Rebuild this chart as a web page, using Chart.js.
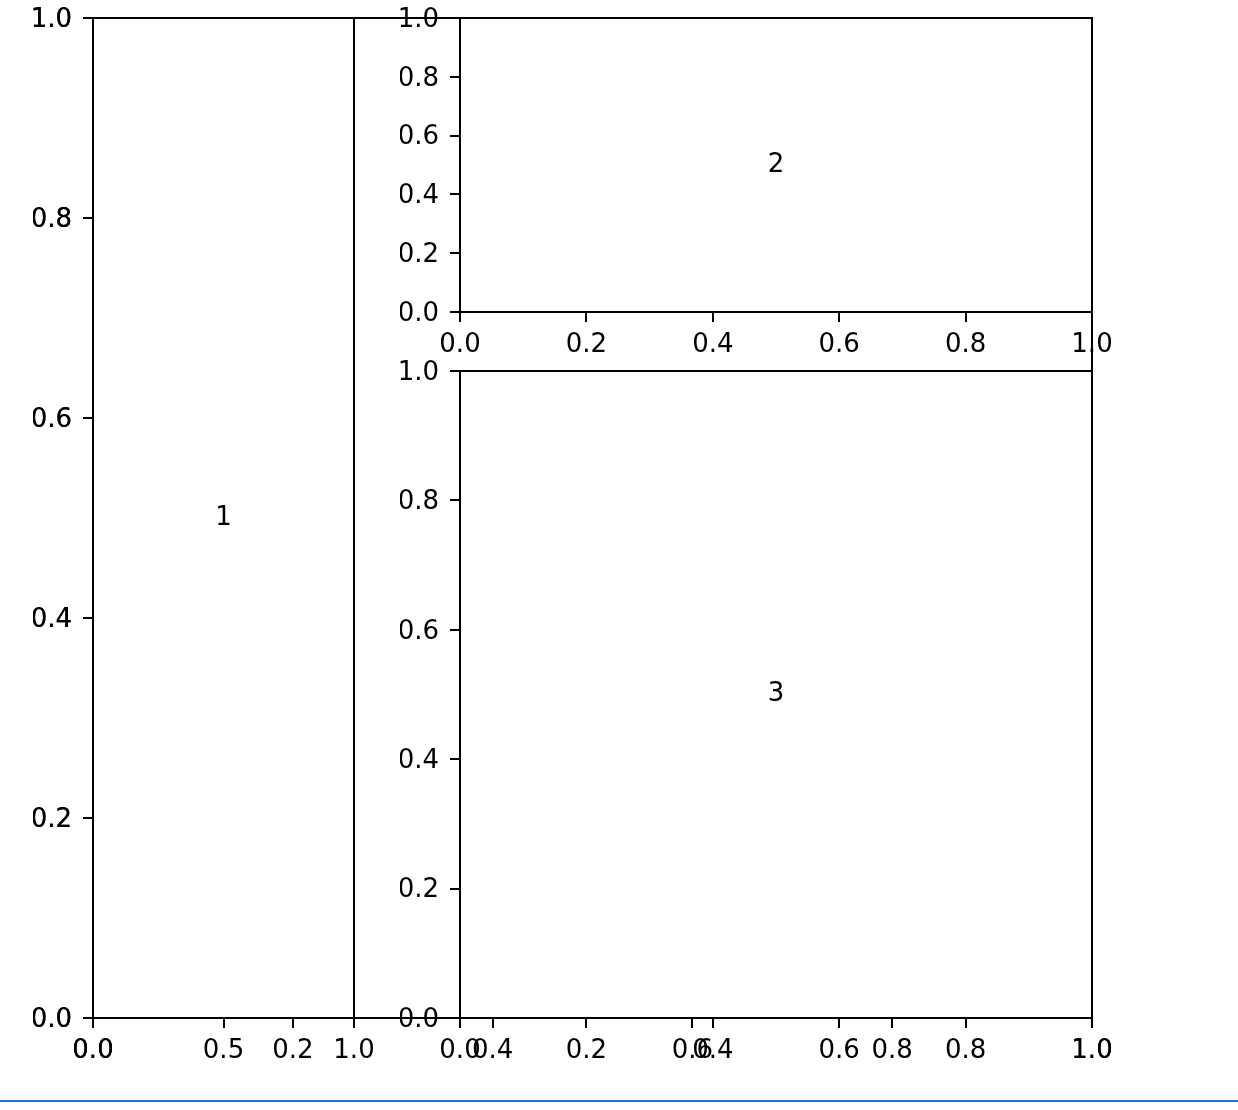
<!DOCTYPE html>
<html>
<head>
<meta charset="utf-8">
<script src="https://cdn.jsdelivr.net/npm/chart.js@4/dist/chart.umd.min.js"></script>
<style>
  html, body { margin: 0; padding: 0; background: #fff; }
  #wrap { position: relative; width: 1238px; height: 1110px; overflow: hidden; }
  #wrap canvas { position: absolute; left: 0; top: 0; }
  #rule { position: absolute; left: 0; top: 1100px; width: 1238px; height: 2px; background: #1f72d6; }
</style>
</head>
<body>
<div id="wrap">
  <canvas id="bg" width="1238" height="1110"></canvas>
  <canvas id="ax1" width="1238" height="1110"></canvas>
  <canvas id="ax2" width="1238" height="1110"></canvas>
  <canvas id="ax3" width="1238" height="1110"></canvas>
  <div id="rule"></div>
</div>
<script>
// Tick values and panel texts
const fifthTicks = [0, 0.2, 0.4, 0.6, 0.8, 1.0];
const halfTicks = [0, 0.5, 1.0];
const panelLabels = ['1', '2', '3'];

const FONT = { family: 'DejaVu Sans', size: 26 };
const W = 1238, H = 1110;
const Y_BOX = 60, X_BOX = 50;

// Draws the four spines and an optional centred text
const framePlugin = {
  id: 'frame',
  afterDraw(chart, args, opts) {
    const { ctx, chartArea: a } = chart;
    ctx.save();
    ctx.strokeStyle = '#000';
    ctx.lineWidth = 2;
    ctx.strokeRect(a.left, a.top, a.right - a.left, a.bottom - a.top);
    if (opts.text) {
      const x = chart.scales.x.getPixelForValue(0.5);
      const y = chart.scales.y.getPixelForValue(0.5);
      ctx.fillStyle = '#000';
      ctx.font = FONT.size + 'px ' + FONT.family;
      ctx.textAlign = 'center';
      ctx.textBaseline = 'middle';
      ctx.fillText(opts.text, x, y);
    }
    ctx.restore();
  },
};

function axis(values, isY) {
  return {
    type: 'linear',
    min: 0,
    max: 1,
    afterBuildTicks: (s) => { s.ticks = values.map((v) => ({ value: v })); },
    afterFit: (s) => {
      if (isY) s.width = Y_BOX; else s.height = X_BOX;
      // labels may overhang the axes box, like matplotlib
      s.paddingTop = s.paddingBottom = s.paddingLeft = s.paddingRight = 0;
    },
    border: { display: false },
    grid: {
      drawOnChartArea: false,
      drawTicks: true,
      tickLength: 10,
      color: '#000',
      lineWidth: 2,
    },
    ticks: {
      color: '#000',
      font: FONT,
      padding: isY ? 11 : 8,
      labelOffset: isY ? 2 : 0,
      maxRotation: 0,
      autoSkip: false,
      callback: (v) => Number(v).toFixed(1),
    },
  };
}

function makeAxes(id, box, xValues, text) {
  // eslint-disable-next-line no-undef
  return new Chart(document.getElementById(id), {
    type: 'scatter',
    data: { datasets: [{ data: [] }] },
    options: {
      responsive: false,
      animation: false,
      devicePixelRatio: 1,
      layout: {
        padding: {
          left: box.left - Y_BOX,
          top: box.top,
          right: W - box.right,
          bottom: H - box.bottom - X_BOX,
        },
      },
      plugins: {
        legend: { display: false },
        tooltip: { enabled: false },
        frame: { text: text },
      },
      scales: {
        x: axis(xValues, false),
        y: axis(fifthTicks, true),
      },
    },
    plugins: [framePlugin],
  });
}

makeAxes('bg', { left: 93, top: 18, right: 1092, bottom: 1018 }, fifthTicks, '');
makeAxes('ax1', { left: 93, top: 18, right: 354, bottom: 1018 }, halfTicks, panelLabels[0]);
makeAxes('ax2', { left: 460, top: 18, right: 1092, bottom: 312 }, fifthTicks, panelLabels[1]);
makeAxes('ax3', { left: 460, top: 371, right: 1092, bottom: 1018 }, fifthTicks, panelLabels[2]);
</script>
</body>
</html>
